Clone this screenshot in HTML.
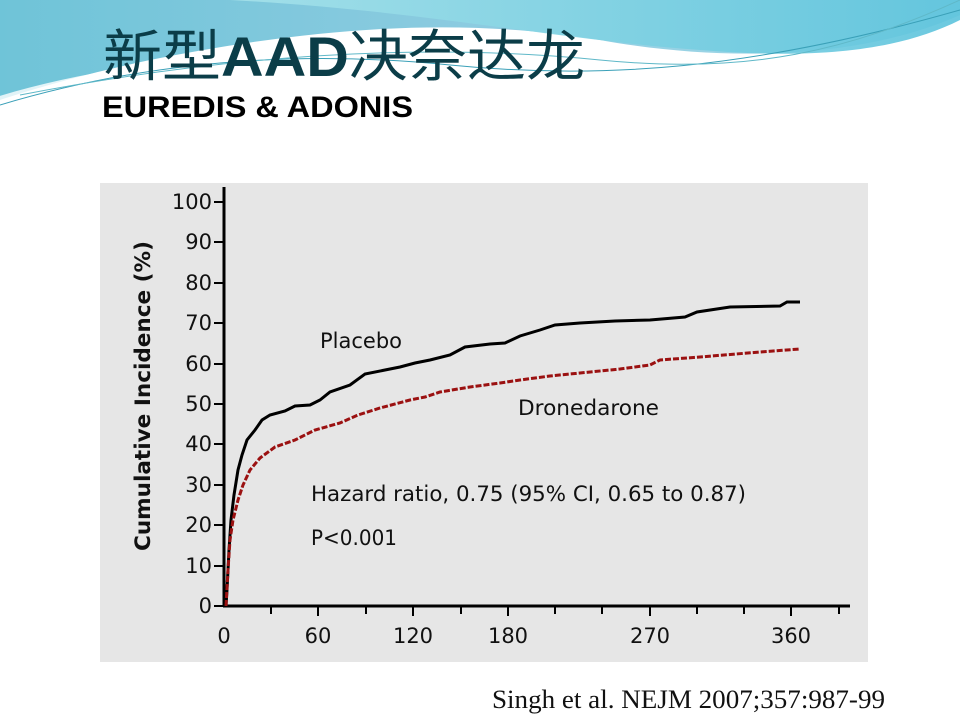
<!DOCTYPE html>
<html><head><meta charset="utf-8"><style>
body{margin:0;width:960px;height:720px;overflow:hidden;background:#fff;font-family:"Liberation Sans","Noto Sans CJK SC",sans-serif;position:relative}
svg{position:absolute;left:0;top:0}
</style></head><body>
<svg width="960" height="720" viewBox="0 0 960 720">
<defs>
<linearGradient id="g1" x1="0" y1="0" x2="1" y2="0"><stop offset="0" stop-color="#6fc4d8"/><stop offset="0.5" stop-color="#8ccbe0"/><stop offset="1" stop-color="#a9dcea"/></linearGradient>
<linearGradient id="g2" x1="0" y1="0" x2="1" y2="0"><stop offset="0" stop-color="#a6e2ea"/><stop offset="1" stop-color="#5cc3dc"/></linearGradient>
</defs>
<path d="M0 0 H960 V15 C860 60 720 62 600 40 C450 15 300 30 150 60 C80 75 30 90 0 100 Z" fill="url(#g1)"/>
<path d="M230 0 H960 V20 C900 50 820 60 700 50 C560 40 420 10 230 0 Z" fill="url(#g2)" opacity="0.9"/>
<path d="M0 100 C100 70 200 60 330 55 C420 52 480 60 560 70" fill="none" stroke="#fff" stroke-width="8" opacity="0.8"/>
<path d="M0 105 C150 60 300 50 450 65 C600 80 750 70 960 10" fill="none" stroke="#3aa0b8" stroke-width="1"/>
<path d="M20 95 C200 60 400 40 600 60 C750 75 850 50 960 0" fill="none" stroke="#5fb8c8" stroke-width="1"/>
<text x="103" y="76" font-size="56" fill="#0b3d48" textLength="482" lengthAdjust="spacingAndGlyphs" font-family="'Liberation Sans','Noto Sans CJK SC',sans-serif">新型<tspan font-weight="bold">AAD</tspan>决奈达龙</text>
<text x="102" y="117" font-size="30" font-weight="bold" fill="#000" textLength="311" lengthAdjust="spacingAndGlyphs">EUREDIS &amp; ADONIS</text>
<rect x="100" y="183" width="768" height="479" fill="#e6e6e6"/>
<g stroke="#000" stroke-width="3" fill="none">
<line x1="224" y1="187" x2="224" y2="607"/>
<line x1="223" y1="606" x2="850" y2="606"/>
</g>
<g stroke="#000" stroke-width="2">
<line x1="214" y1="606" x2="224" y2="606"/><line x1="214" y1="566" x2="224" y2="566"/><line x1="214" y1="525" x2="224" y2="525"/><line x1="214" y1="485" x2="224" y2="485"/><line x1="214" y1="444" x2="224" y2="444"/><line x1="214" y1="404" x2="224" y2="404"/><line x1="214" y1="364" x2="224" y2="364"/><line x1="214" y1="323" x2="224" y2="323"/><line x1="214" y1="283" x2="224" y2="283"/><line x1="214" y1="242" x2="224" y2="242"/><line x1="214" y1="202" x2="224" y2="202"/>
<line x1="271" y1="606" x2="271" y2="614"/><line x1="318" y1="606" x2="318" y2="616"/><line x1="366" y1="606" x2="366" y2="614"/><line x1="413" y1="606" x2="413" y2="616"/><line x1="461" y1="606" x2="461" y2="614"/><line x1="508" y1="606" x2="508" y2="616"/><line x1="555" y1="606" x2="555" y2="614"/><line x1="602" y1="606" x2="602" y2="614"/><line x1="650" y1="606" x2="650" y2="616"/><line x1="697" y1="606" x2="697" y2="614"/><line x1="744" y1="606" x2="744" y2="614"/><line x1="791" y1="606" x2="791" y2="616"/><line x1="839" y1="606" x2="839" y2="614"/>
</g>
<g font-family="'DejaVu Sans',sans-serif" font-size="21" fill="#111" text-anchor="end">
<text x="212" y="613">0</text><text x="212" y="573">10</text><text x="212" y="532">20</text><text x="212" y="492">30</text><text x="212" y="451">40</text><text x="212" y="411">50</text><text x="212" y="371">60</text><text x="212" y="330">70</text><text x="212" y="290">80</text><text x="212" y="249">90</text><text x="212" y="209">100</text>
</g>
<g font-family="'DejaVu Sans',sans-serif" font-size="21" fill="#111" text-anchor="middle">
<text x="224" y="643">0</text><text x="318" y="643">60</text><text x="413" y="643">120</text><text x="508" y="643">180</text><text x="650" y="643">270</text><text x="791" y="643">360</text>
</g>
<text transform="translate(150,396) rotate(-90)" text-anchor="middle" font-family="'DejaVu Sans',sans-serif" font-weight="bold" font-size="21" fill="#111" textLength="310" lengthAdjust="spacingAndGlyphs">Cumulative Incidence (%)</text>
<g font-family="'DejaVu Sans',sans-serif" font-size="21" fill="#111">
<text x="320" y="348" textLength="82" lengthAdjust="spacingAndGlyphs">Placebo</text>
<text x="518" y="415" textLength="141" lengthAdjust="spacingAndGlyphs">Dronedarone</text>
<text x="311" y="501" textLength="435" lengthAdjust="spacingAndGlyphs">Hazard ratio, 0.75 (95% CI, 0.65 to 0.87)</text>
<text x="311" y="545" textLength="86" lengthAdjust="spacingAndGlyphs">P&lt;0.001</text>
</g>
<polyline fill="none" stroke="#000" stroke-width="3" points="226,606 227,590 229,550 231,520 234,495 238,470 242,455 247,440 255,430 262,420 270,415 285,411 295,406 310,405 320,400 330,392 350,385 365,374 385,370 400,367 415,363 430,360 450,355 465,347 490,344 505,343 520,336 540,330 555,325 580,323 615,321 650,320 685,317 697,312 730,307 780,306 787,302 800,302"/>
<polyline fill="none" stroke="#9b1111" stroke-width="3" stroke-dasharray="6,2" points="226,606 228,570 230,540 233,520 238,500 243,485 250,470 260,458 275,447 295,440 315,430 340,423 358,415 380,408 410,400 425,397 440,392 470,387 500,383 520,380 550,376 580,373 620,369 650,365 660,360 700,357 760,352 800,349"/>
<text x="492" y="708" font-family="'Liberation Serif',serif" font-size="26" fill="#111" textLength="393" lengthAdjust="spacingAndGlyphs">Singh et al. NEJM 2007;357:987-99</text>
</svg>
</body></html>
